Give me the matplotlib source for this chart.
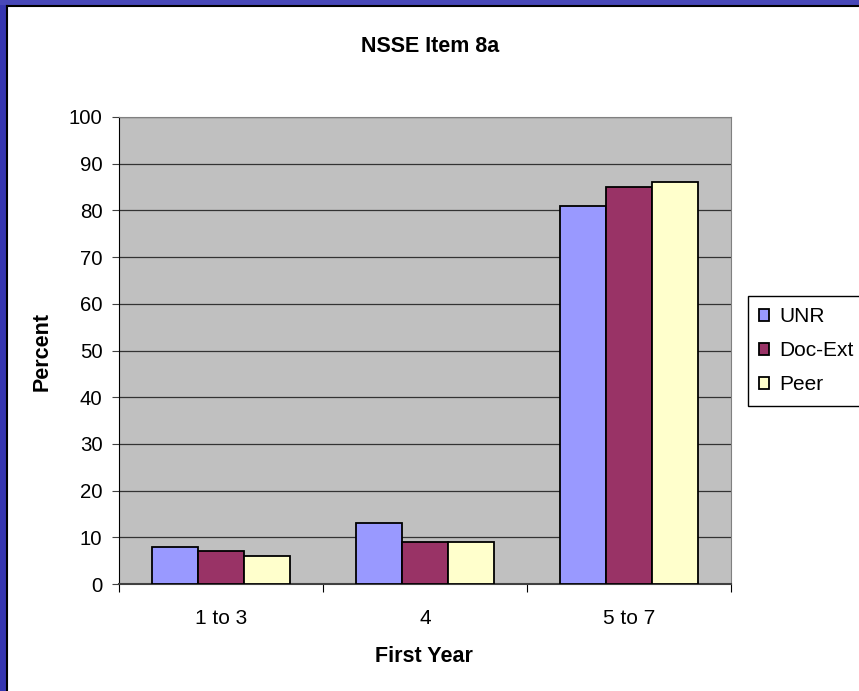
import matplotlib
matplotlib.use("Agg")
import matplotlib.pyplot as plt
from matplotlib.patches import Rectangle
import numpy as np

plt.rcParams["font.family"] = ["Liberation Sans", "DejaVu Sans"]

# data
categories = ["1 to 3", "4", "5 to 7"]
unr = [8, 13, 81]
doc_ext = [7, 9, 85]
peer = [6, 9, 86]
series = [("UNR", unr, "#9999ff"), ("Doc-Ext", doc_ext, "#993366"), ("Peer", peer, "#ffffcc")]

W, H = 859, 691
fig = plt.figure(figsize=(W / 100, H / 100), dpi=100)
fig.patch.set_facecolor("white")

# slide background strips (left & top) with dark border
fig.patches.append(Rectangle((0, 0), 6 / W, 1, transform=fig.transFigure,
                             facecolor="#3636b0", edgecolor="none", zorder=0))
fig.patches.append(Rectangle((0, 1 - 5 / H), 1, 5 / H, transform=fig.transFigure,
                             facecolor="#4848b8", edgecolor="none", zorder=0))
fig.lines.append(plt.Line2D([6.5 / W, 6.5 / W], [0, 1 - 5.5 / H], transform=fig.transFigure,
                            color="black", linewidth=1.5))
fig.lines.append(plt.Line2D([6.5 / W, 1], [1 - 5.5 / H, 1 - 5.5 / H], transform=fig.transFigure,
                            color="black", linewidth=1.5))

ax = fig.add_axes([119 / W, (H - 584) / H, 612 / W, 467 / H])
ax.set_facecolor("#c0c0c0")

x = np.arange(len(categories))
bw = 0.224
for i, (name, vals, col) in enumerate(series):
    ax.bar(x + (i - 1) * bw, vals, width=bw, color=col, edgecolor="black",
           linewidth=1.3, label=name, zorder=3)

ax.set_ylim(0, 100)
ax.set_xlim(-0.5, 2.5)
ax.set_yticks(range(0, 101, 10))
ax.grid(axis="y", color="#333333", linewidth=0.9, zorder=1)
ax.tick_params(axis="y", direction="out", length=5, labelsize=14.7, pad=7, color="#404040")

ax.set_xticks([-0.5, 0.5, 1.5, 2.5])
ax.set_xticklabels([])
ax.set_xticks(x, minor=True)
ax.set_xticklabels(categories, minor=True)
ax.tick_params(axis="x", which="major", direction="out", length=6, color="black")
ax.tick_params(axis="x", which="minor", length=0, labelsize=15, pad=18)

ax.spines["left"].set_color("black")
ax.spines["bottom"].set_color("#404040")
ax.spines["bottom"].set_linewidth(1.5)
ax.spines["top"].set_color("#808080")
ax.spines["right"].set_color("#808080")

fig.text(430 / W, 1 - 47 / H, "NSSE Item 8a", ha="center", va="center",
         fontsize=15.5, fontweight="bold")
fig.text(42 / W, 1 - 352 / H, "Percent", ha="center", va="center",
         rotation=90, fontsize=15.5, fontweight="bold")
fig.text(424 / W, 1 - 656 / H, "First Year", ha="center", va="center",
         fontsize=15.5, fontweight="bold")

leg = ax.legend(loc="upper left", bbox_to_anchor=(748 / W, 1 - 296 / H),
                bbox_transform=fig.transFigure, fontsize=15, frameon=True,
                fancybox=False, edgecolor="black", framealpha=1,
                handlelength=0.45, handleheight=0.45, handletextpad=0.5,
                labelspacing=0.72, borderpad=0.55, borderaxespad=0)
leg.get_frame().set_linewidth(1.0)

fig.savefig("out.png", dpi=100, facecolor=fig.get_facecolor())
